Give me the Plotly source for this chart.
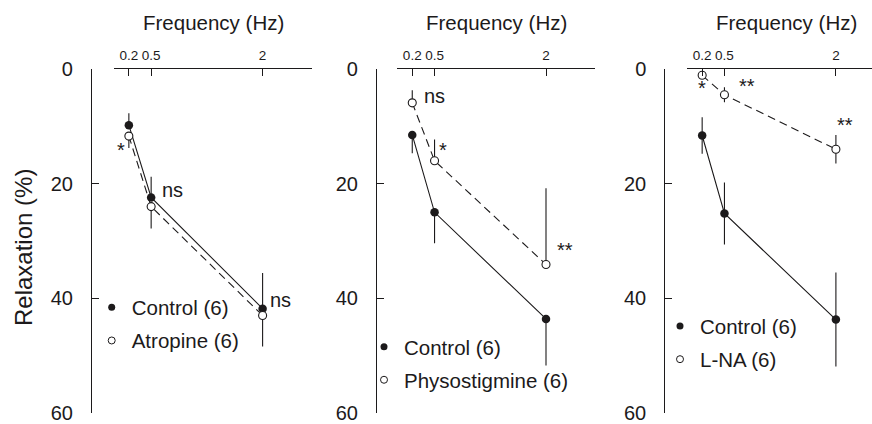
import plotly.graph_objects as go

# ---------------- data ----------------
freq = [0.2, 0.5, 2]
freq_ticks = [0.2, 0.5, 2]
freq_ticktext = ["0.2", "0.5", "2"]
relax_ticks = [0, 20, 40, 60]

# Panel 1: Control vs Atropine
p1_ctrl = [9.8, 22.4, 41.8]
p1_ctrl_err_minus = [2.1, 3.6, 6.2]
p1_drug = [11.7, 24.0, 43.0]
p1_drug_err_plus = [2.1, 3.8, 5.4]

# Panel 2: Control vs Physostigmine
p2_ctrl = [11.5, 25.0, 43.6]
p2_ctrl_err_plus = [3.2, 5.4, 8.1]
p2_drug = [5.9, 16.0, 34.1]
p2_drug_err_minus = [2.2, 3.7, 13.3]

# Panel 3: Control vs L-NA
p3_ctrl = [11.6, 25.2, 43.7]
p3_ctrl_err = [3.2, 5.4, 8.2]
p3_drug = [1.1, 4.5, 14.0]
p3_drug_err = [0.0, 1.3, 2.5]

ctrl_names = ["Control (6)", "Control (6)", "Control (6)"]
drug_names = ["Atropine (6)", "Physostigmine (6)", "L-NA (6)"]

# significance labels (text per panel)
p1_stats = ["*", "ns", "ns"]
p2_stats = ["ns", "*", "**"]
p3_stats = ["*", "**", "**"]

# ---------------- layout helpers ----------------
W, H = 872, 424
def px(x):
    return x / W
def py(y):
    return 1 - y / H

INK = "#1c1a1b"
FONT = "Liberation Sans"
PXHZ = 74.3
x_start = [114.0, 397.4, 687.3]
x_end = [312.0, 595.0, 872.0]
y_axis_px = [91.0, 376.0, 664.3]
y_top, y_bot = 69.0, 413.0

zero = [0, 0, 0]
zero0 = [0, 0, 0]

def err(plus, minus):
    return dict(type="data", symmetric=False, array=plus, arrayminus=minus,
                color=INK, thickness=1.1, width=0)

fig = go.Figure()

panels = [
    (p1_ctrl, err(zero, p1_ctrl_err_minus), p1_drug, err(p1_drug_err_plus, zero0)),
    (p2_ctrl, err(p2_ctrl_err_plus, zero), p2_drug, err(zero0, p2_drug_err_minus)),
    (p3_ctrl, err(p3_ctrl_err, p3_ctrl_err), p3_drug, err(p3_drug_err, p3_drug_err)),
]

legend_pos = [(116.7, 309.0), (389.0, 348.3), (685.0, 327.7)]

for i, (ctrl, cerr, drug, derr) in enumerate(panels):
    n = "" if i == 0 else str(i + 1)
    xa, ya = "x" + n, "y" + n
    lg = "legend" + n
    fig.add_trace(go.Scatter(
        x=freq, y=ctrl, xaxis=xa, yaxis=ya, mode="lines+markers",
        line=dict(color=INK, width=1.1),
        marker=dict(symbol="circle", size=8.5, color=INK, line=dict(width=0)),
        error_y=cerr, showlegend=False, cliponaxis=False))
    fig.add_trace(go.Scatter(
        x=freq, y=drug, xaxis=xa, yaxis=ya, mode="lines+markers",
        line=dict(color=INK, width=1.1, dash="8px,5px"),
        marker=dict(symbol="circle", size=8, color="white", line=dict(width=1.1, color=INK)),
        error_y=derr, showlegend=False, cliponaxis=False))
    # legend entries
    fig.add_trace(go.Scatter(
        x=[None], y=[None], xaxis=xa, yaxis=ya, mode="markers", name=ctrl_names[i],
        marker=dict(symbol="circle", size=7, color=INK, line=dict(width=0)),
        legend=lg, legendgroup="c" + str(i), showlegend=True))
    fig.add_trace(go.Scatter(
        x=[None], y=[None], xaxis=xa, yaxis=ya, mode="markers", name=drug_names[i],
        marker=dict(symbol="circle", size=7, color="white", line=dict(width=1, color=INK)),
        legend=lg, legendgroup="d" + str(i), showlegend=True))

    lx, ly = legend_pos[i]
    fig.update_layout(**{lg: dict(
        x=px(lx - 25), y=py(ly - 21.5), xanchor="left", yanchor="top",
        font=dict(family=FONT, size=20.5, color=INK), bgcolor="rgba(0,0,0,0)",
        borderwidth=0, tracegroupgap=3.5, itemclick=False, itemdoubleclick=False)})

    xrng = (x_end[i] - x_start[i]) / PXHZ
    fig.update_layout(**{
        "xaxis" + n: dict(
            domain=[px(x_start[i]), px(x_end[i])], range=[0, xrng], anchor=ya, side="top",
            showline=True, linecolor=INK, linewidth=1.1, showgrid=False, zeroline=False,
            ticks="inside", ticklen=7, tickwidth=1.1, tickcolor=INK, automargin=False,
            tickvals=freq_ticks, ticktext=freq_ticktext, ticklabelstandoff=3,
            tickfont=dict(family=FONT, size=13.5, color=INK)),
        "yaxis" + n: dict(
            domain=[py(y_bot), py(y_top)], range=[60, 0], anchor="free",
            position=px(y_axis_px[i]), automargin=False,
            showline=True, linecolor=INK, linewidth=1.1, showgrid=False, zeroline=False,
            ticks="inside", ticklen=7, tickwidth=1.1, tickcolor=INK,
            tickvals=relax_ticks, ticklabelstandoff=14,
            tickfont=dict(family=FONT, size=20, color=INK)),
    })

# axis titles
for i in range(3):
    fig.add_annotation(text="Frequency (Hz)", xref="paper", yref="paper",
                       x=px(x_start[i] + 99), y=py(22), xanchor="center", yanchor="middle",
                       showarrow=False, font=dict(family=FONT, size=20.5, color=INK))
fig.add_annotation(text="Relaxation (%)", xref="paper", yref="paper", textangle=-90,
                   x=px(23), y=py(248), xanchor="center", yanchor="middle",
                   showarrow=False, font=dict(family=FONT, size=24, color=INK))

# significance annotations (label placement)
stat_place = [
    [(0.094, 14.1, "center"), (0.62, 21.1, "left"), (2.07, 40.3, "left")],
    [(0.335, 4.7, "left"), (0.607, 14.1, "center"), (2.249, 31.5, "center")],
    [(0.2, 3.4, "center"), (0.8, 2.9, "center"), (2.12, 9.7, "center")],
]
stats = [p1_stats, p2_stats, p3_stats]
for i in range(3):
    n = "" if i == 0 else str(i + 1)
    for txt, (sx, sy, anc) in zip(stats[i], stat_place[i]):
        fig.add_annotation(text=txt, xref="x" + n, yref="y" + n, x=sx, y=sy,
                           xanchor=anc, yanchor="middle", showarrow=False,
                           font=dict(family=FONT, size=20, color=INK))

fig.update_layout(width=W, height=H, margin=dict(l=0, r=0, t=0, b=0),
                  paper_bgcolor="white", plot_bgcolor="white", showlegend=True)

fig.write_html("out.html")
